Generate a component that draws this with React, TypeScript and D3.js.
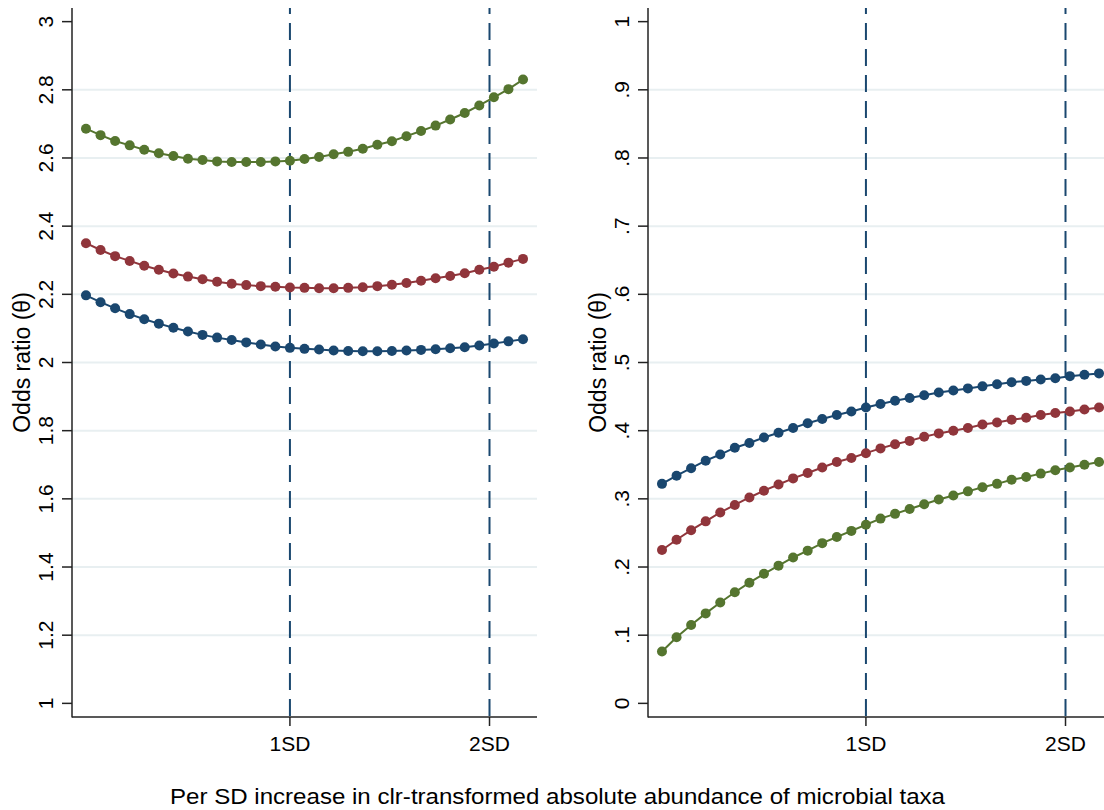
import React, { useEffect, useRef } from 'react';
import * as d3 from 'd3';

// 31 evaluation points, x axis in step units; SD marks sit on these steps
const sdTicks = [
  { label: '1SD', step: 14 },
  { label: '2SD', step: 27.7 },
];

const leftTicks = [1, 1.2, 1.4, 1.6, 1.8, 2, 2.2, 2.4, 2.6, 2.8, 3];
const rightTicks = [0, 0.1, 0.2, 0.3, 0.4, 0.5, 0.6, 0.7, 0.8, 0.9, 1];

const leftBlue = [2.197, 2.177, 2.159, 2.142, 2.127, 2.114, 2.102, 2.091, 2.081, 2.073, 2.066, 2.059, 2.053, 2.047, 2.043, 2.040, 2.038, 2.035, 2.034, 2.033, 2.033, 2.034, 2.035, 2.037, 2.039, 2.042, 2.045, 2.050, 2.056, 2.062, 2.068];
const leftRed = [2.350, 2.330, 2.312, 2.298, 2.284, 2.272, 2.261, 2.252, 2.244, 2.237, 2.231, 2.227, 2.224, 2.222, 2.220, 2.219, 2.218, 2.218, 2.219, 2.221, 2.224, 2.228, 2.233, 2.240, 2.247, 2.254, 2.262, 2.272, 2.281, 2.293, 2.304];
const leftGreen = [2.686, 2.667, 2.650, 2.637, 2.624, 2.614, 2.606, 2.598, 2.594, 2.590, 2.588, 2.588, 2.588, 2.590, 2.592, 2.597, 2.603, 2.611, 2.618, 2.627, 2.639, 2.649, 2.664, 2.679, 2.695, 2.713, 2.732, 2.754, 2.778, 2.802, 2.830];

const rightBlue = [0.322, 0.334, 0.345, 0.356, 0.365, 0.375, 0.382, 0.390, 0.397, 0.404, 0.411, 0.417, 0.423, 0.428, 0.434, 0.439, 0.444, 0.448, 0.452, 0.456, 0.459, 0.462, 0.465, 0.468, 0.471, 0.473, 0.475, 0.477, 0.480, 0.482, 0.484];
const rightRed = [0.225, 0.240, 0.254, 0.267, 0.280, 0.291, 0.302, 0.312, 0.321, 0.330, 0.338, 0.346, 0.354, 0.360, 0.367, 0.374, 0.380, 0.385, 0.391, 0.396, 0.400, 0.404, 0.409, 0.412, 0.416, 0.419, 0.423, 0.426, 0.428, 0.431, 0.434];
const rightGreen = [0.076, 0.097, 0.115, 0.132, 0.148, 0.163, 0.177, 0.190, 0.202, 0.214, 0.224, 0.235, 0.244, 0.253, 0.262, 0.271, 0.278, 0.285, 0.292, 0.299, 0.305, 0.311, 0.317, 0.322, 0.328, 0.332, 0.337, 0.342, 0.346, 0.350, 0.354];

const colors = ['#1a476f', '#90353b', '#55752f'];
const font = '"Liberation Sans", Arial, Helvetica, sans-serif';

const width = 1104;
const height = 810;

function fmtLeft(d: number) {
  return d3.format('~g')(d);
}
function fmtRight(d: number) {
  if (d === 0 || d === 1) return String(d);
  return d3.format('.1f')(d).replace(/^0/, '');
}

function App() {
  const ref = useRef<SVGSVGElement>(null);

  useEffect(() => {
    drawChart();
  }, []);

  function drawPanel(svg: any, offset: number, yDomain: number[], ticks: number[], fmt: (d: number) => string, series: number[][]) {
    const x = d3.scaleLinear().domain([-0.96, 30.96]).range([72 + offset, 537 + offset]);
    const y = d3.scaleLinear().domain(yDomain).range([717, 8]);
    const g = svg.append('g');

    // gridlines (not at the end ticks)
    g.selectAll('.grid')
      .data(ticks.slice(1, -1))
      .enter()
      .append('line')
      .attr('x1', x.range()[0])
      .attr('x2', x.range()[1])
      .attr('y1', (d: number) => y(d))
      .attr('y2', (d: number) => y(d))
      .style('stroke', '#e8eff1')
      .style('stroke-width', 2);

    // dashed SD reference lines
    g.selectAll('.sd')
      .data(sdTicks)
      .enter()
      .append('line')
      .attr('x1', (d: any) => x(d.step))
      .attr('x2', (d: any) => x(d.step))
      .attr('y1', 8)
      .attr('y2', 717)
      .style('stroke', '#1a476f')
      .style('stroke-width', 2)
      .style('stroke-dasharray', '17 9')
      .style('stroke-dashoffset', 11);

    // axes
    g.append('line')
      .attr('x1', x.range()[0]).attr('x2', x.range()[0])
      .attr('y1', 8).attr('y2', 717.5)
      .style('stroke', '#222').style('stroke-width', 1.5);
    g.append('line')
      .attr('x1', x.range()[0]).attr('x2', x.range()[1])
      .attr('y1', 717).attr('y2', 717)
      .style('stroke', '#222').style('stroke-width', 1.5);

    g.selectAll('.ytick')
      .data(ticks)
      .enter()
      .append('line')
      .attr('x1', x.range()[0] - 10)
      .attr('x2', x.range()[0])
      .attr('y1', (d: number) => y(d))
      .attr('y2', (d: number) => y(d))
      .style('stroke', '#222')
      .style('stroke-width', 1.5);

    g.selectAll('.ylab')
      .data(ticks)
      .enter()
      .append('text')
      .attr('x', x.range()[0] - 19)
      .attr('y', (d: number) => y(d))
      .attr('transform', (d: number) => `rotate(-90, ${x.range()[0] - 19}, ${y(d)})`)
      .attr('text-anchor', 'middle')
      .style('font-family', font)
      .style('font-size', '21px')
      .style('fill', '#000')
      .text(fmt);

    g.selectAll('.xtick')
      .data(sdTicks)
      .enter()
      .append('line')
      .attr('x1', (d: any) => x(d.step))
      .attr('x2', (d: any) => x(d.step))
      .attr('y1', 717)
      .attr('y2', 726)
      .style('stroke', '#222')
      .style('stroke-width', 1.5);

    g.selectAll('.xlab')
      .data(sdTicks)
      .enter()
      .append('text')
      .attr('x', (d: any) => x(d.step))
      .attr('y', 750.5)
      .attr('text-anchor', 'middle')
      .style('font-family', font)
      .style('font-size', '21px')
      .style('fill', '#000')
      .text((d: any) => d.label);

    // y title
    const ty = 362.5;
    const tx = x.range()[0] - 42;
    g.append('text')
      .attr('x', tx)
      .attr('y', ty)
      .attr('transform', `rotate(-90, ${tx}, ${ty})`)
      .attr('text-anchor', 'middle')
      .style('font-family', font)
      .style('font-size', '23px')
      .style('fill', '#000')
      .text('Odds ratio (θ)');

    // series: lines then markers
    const line = d3.line<number>()
      .x((_, i) => x(i))
      .y((d) => y(d));

    series.forEach((s, k) => {
      g.append('path')
        .attr('d', line(s))
        .style('fill', 'none')
        .style('stroke', colors[k])
        .style('stroke-width', 2);
      g.selectAll(null)
        .data(s)
        .enter()
        .append('circle')
        .attr('cx', (_: number, i: number) => x(i))
        .attr('cy', (d: number) => y(d))
        .attr('r', 5)
        .style('fill', colors[k]);
    });
  }

  function drawChart() {
    const svg = d3.select(ref.current);
    svg.selectAll('*').remove();

    svg.append('rect').attr('width', width).attr('height', height).style('fill', '#fff');

    drawPanel(svg, 0, [0.96, 3.04], leftTicks, fmtLeft, [leftBlue, leftRed, leftGreen]);
    drawPanel(svg, 576, [-0.02, 1.02], rightTicks, fmtRight, [rightBlue, rightRed, rightGreen]);

    svg.append('text')
      .attr('x', 557.5)
      .attr('y', 803.5)
      .attr('text-anchor', 'middle')
      .attr('textLength', 775)
      .attr('lengthAdjust', 'spacingAndGlyphs')
      .style('font-family', font)
      .style('font-size', '21.5px')
      .style('fill', '#000')
      .text('Per SD increase in clr-transformed absolute abundance of microbial taxa');
  }

  return (
    <div style={{ position: 'absolute', left: 0, top: 0 }}>
      <svg ref={ref} width={width} height={height} style={{ display: 'block' }} />
    </div>
  );
}

export default App;
